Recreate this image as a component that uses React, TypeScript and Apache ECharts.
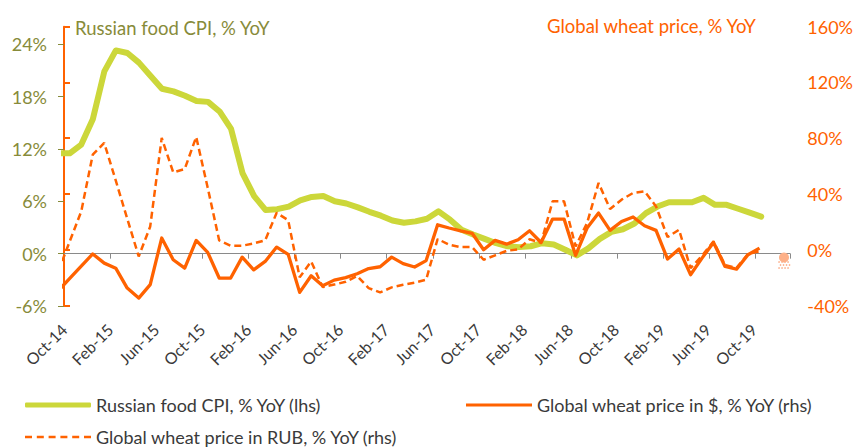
import React, { useEffect, useRef } from "react";
import * as echarts from "echarts";

// Tick labels shown every 4 months on the x axis (Oct-14 ... Oct-19)
const tickLabels = [
  "Oct-14", "Feb-15", "Jun-15", "Oct-15", "Feb-16", "Jun-16", "Oct-16", "Feb-17",
  "Jun-17", "Oct-17", "Feb-18", "Jun-18", "Oct-18", "Feb-19", "Jun-19", "Oct-19",
];

// Monthly values, Sep-14 ... Oct-19 (Sep-14 sits left of the axis and is clipped)
const cpiFood = [
  11.5, 11.5, 12.5, 15.4, 20.9, 23.3, 23.0, 21.9, 20.4, 18.9, 18.6, 18.1, 17.5, 17.4,
  16.3, 14.3, 9.2, 6.6, 5.0, 5.1, 5.4, 6.1, 6.5, 6.6, 6.0, 5.75, 5.3, 4.8, 4.35, 3.8,
  3.55, 3.7, 4.0, 4.85, 3.9, 2.75, 2.2, 1.7, 1.2, 0.85, 0.75, 0.85, 1.2, 1.05, 0.45,
  -0.2, 0.6, 1.7, 2.5, 2.8, 3.45, 4.65, 5.4, 5.9, 5.9, 5.9, 6.4, 5.6, 5.6, 5.15, 4.7, 4.25,
];

const wheatUsd = [
  -29.4, -20.6, -11.8, -3, -9.6, -13.2, -27.5, -34.7, -25, 8.4, -7.2, -13.2, 6.7, -1.9,
  -20.3, -20.3, -5.3, -14.4, -8.4, 1.9, -3.3, -30.6, -18.7, -25.8, -21.8, -20, -17.2,
  -13.5, -12.2, -5.3, -10, -12.4, -7.8, 17.9, 15.6, 13.5, 11.8, 0, 6.7, 4, 7.2, 13.6,
  5.2, 22, 22, -4, 15.6, 26.3, 13.9, 20.3, 23.5, 17.2, 13.9, -6.7, 0.5, -17.9, -6, 5.2,
  -12, -13.9, -3.6, 1.2,
];

const wheatRub = [
  -15.5, 6, 27.5, 68.2, 76.6, 49.7, 22.3, -4.8, 16.7, 80.2, 55.5, 57.9, 80.9, 44.5, 6.7,
  2.9, 2.9, 4.5, 6.8, 26.5, 21.2, -19.8, -8.4, -26.8, -25, -23, -18.9, -27.5, -30.6, -27,
  -25.1, -23.6, -21.5, 7.7, 3.6, 1.9, 1.9, -7.2, -4, -0.8, 0.3, 7.5, 5, 34.7, 34.7, 2.4,
  19.1, 47.9, 29.2, 35.9, 40.7, 41.9, 31.1, 9.1, 14.4, -13.2, -4.3, 6, -11, -13, -3, -1.2,
];

const seriesNames = [
  "Russian food CPI, % YoY (lhs)",
  "Global wheat price in $, % YoY (rhs)",
  "Global wheat price in RUB, % YoY (rhs)",
];

const OLIVE = "#878b3a";
const ORANGE = "#ff6200";
const GREEN = "#ccd73a";
const FONT = "Lato";

const dashIcon =
  "path://M0 0H7V2.5H0Z M11.8 0H18.8V2.5H11.8Z M23.6 0H30.6V2.5H23.6Z M35.4 0H42.4V2.5H35.4Z M47.2 0H54.2V2.5H47.2Z M59 0H66V2.5H59Z";

export default function App() {
  const ref = useRef<HTMLDivElement>(null);

  useEffect(() => {
    const chart = echarts.init(ref.current!, null, { renderer: "svg" });
    const toPts = (arr: number[]) => arr.map((v, i) => [i - 0.5, v]);
    const xLabel = (v: number) => {
      const i = v / 4;
      return Number.isInteger(i) && i >= 0 && i < tickLabels.length ? tickLabels[i] : "";
    };

    const dots: any[] = [];
    for (let r = 0; r < 3; r++) {
      for (let c = 0; c < 4; c++) {
        dots.push({
          type: "circle",
          shape: { cx: 779 + c * 3 + (r % 2) * 1.5, cy: 262 + r * 3, r: 0.8 },
          style: { fill: "#fcb08c" },
        });
      }
    }

    const legendBase = {
      itemWidth: 66,
      selectedMode: false,
      padding: 0,
      textStyle: { fontFamily: FONT, fontSize: 18, color: "#3a3a3a" },
    };

    chart.setOption({
      animation: false,
      textStyle: { fontFamily: FONT },
      title: [
        {
          text: "Russian food CPI, % YoY",
          left: 75,
          top: 18,
          padding: 0,
          textStyle: { fontFamily: FONT, fontSize: 18.5, fontWeight: "normal", color: OLIVE },
        },
        {
          text: "Global wheat price, % YoY",
          right: 99,
          top: 16,
          padding: 0,
          textStyle: { fontFamily: FONT, fontSize: 18.5, fontWeight: "normal", color: ORANGE },
        },
      ],
      legend: [
        { ...legendBase, left: 25, top: 396, itemHeight: 5, data: [{ name: seriesNames[0], icon: "roundRect" }] },
        { ...legendBase, left: 466, top: 396, itemHeight: 3, data: [{ name: seriesNames[1], icon: "rect" }] },
        { ...legendBase, left: 25, top: 428, itemHeight: 2.5, data: [{ name: seriesNames[2], icon: dashIcon }] },
      ],
      grid: [
        { left: 64, right: 66, top: 44.3, bottom: 142 },
        { left: 64, right: 66, top: 26.7, bottom: 142.5 },
      ],
      xAxis: [
        {
          gridIndex: 0,
          type: "value",
          min: 0,
          max: 63,
          interval: 4,
          axisLine: { onZero: true, lineStyle: { color: "#8a8a8a", width: 1 } },
          axisTick: { show: true, length: 5, lineStyle: { color: "#8a8a8a" } },
          axisLabel: { show: false },
          splitLine: { show: false },
        },
        {
          gridIndex: 1,
          type: "value",
          min: 0,
          max: 63,
          interval: 4,
          axisLine: { show: false, onZero: false },
          axisTick: { show: false },
          axisLabel: {
            rotate: 45,
            margin: 21,
            fontSize: 16,
            fontFamily: FONT,
            color: "#3a3a3a",
            formatter: xLabel,
          },
          splitLine: { show: false },
        },
      ],
      yAxis: [
        {
          gridIndex: 0,
          type: "value",
          position: "left",
          min: -6,
          max: 24,
          interval: 6,
          axisLine: { show: true, lineStyle: { color: OLIVE, width: 1 } },
          axisTick: { show: true, length: 6, lineStyle: { color: OLIVE } },
          axisLabel: { formatter: "{value}%", color: OLIVE, fontSize: 18, fontFamily: FONT, margin: 17 },
          splitLine: { show: false },
        },
        {
          gridIndex: 1,
          type: "value",
          position: "right",
          min: -40,
          max: 160,
          interval: 40,
          axisLine: { show: true, lineStyle: { color: ORANGE, width: 2 } },
          axisTick: { show: true, length: 6, lineStyle: { color: ORANGE, width: 2 } },
          axisLabel: { formatter: "{value}%", color: ORANGE, fontSize: 18, fontFamily: FONT, margin: 19 },
          splitLine: { show: false },
        },
      ],
      series: [
        {
          name: seriesNames[0],
          type: "line",
          xAxisIndex: 0,
          yAxisIndex: 0,
          data: toPts(cpiFood),
          symbol: "none",
          color: GREEN,
          lineStyle: { color: GREEN, width: 6, join: "round", cap: "round" },
          z: 2,
        },
        {
          name: seriesNames[2],
          type: "line",
          xAxisIndex: 1,
          yAxisIndex: 1,
          data: toPts(wheatRub),
          symbol: "none",
          color: ORANGE,
          lineStyle: { color: ORANGE, width: 2.5, type: [7, 4] },
          z: 3,
        },
        {
          name: seriesNames[1],
          type: "line",
          xAxisIndex: 1,
          yAxisIndex: 1,
          data: toPts(wheatUsd),
          symbol: "none",
          color: ORANGE,
          lineStyle: { color: ORANGE, width: 3.3, join: "round" },
          z: 4,
        },
      ],
      graphic: [
        { type: "circle", shape: { cx: 784, cy: 257.5, r: 5 }, style: { fill: "#fdb088" }, z: 100 },
        { type: "group", children: dots, z: 100 },
      ],
    });

    return () => chart.dispose();
  }, []);

  return (
    <div
      ref={ref}
      style={{ position: "fixed", left: 0, top: 0, width: 856, height: 448, background: "#fff" }}
    />
  );
}
